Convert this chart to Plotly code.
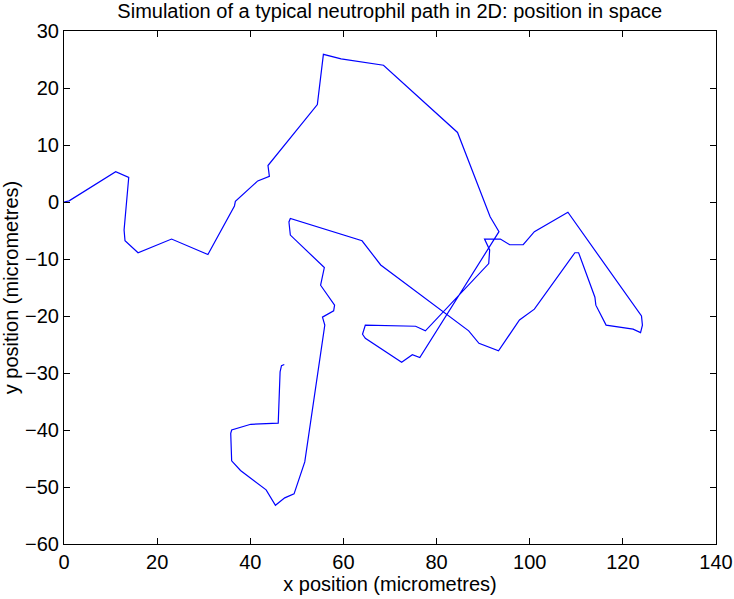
import plotly.graph_objects as go

# neutrophil path (micrometres)
x_pos = [0.0, 1.1, 11.1, 13.9, 12.9, 13.1, 15.9, 23.1, 30.9, 36.3, 36.6, 36.8,
         41.6, 44.1, 43.8, 54.4, 55.7, 59.5, 68.6, 84.5, 91.5, 93.4, 76.4, 74.8,
         72.5, 64.7, 64.1, 64.7, 75.5, 77.6, 91.2, 91.4, 90.3, 93.7, 95.7, 98.6,
         101.0, 108.2, 124.0, 124.2, 123.8, 122.2, 116.4, 114.2, 114.0, 110.5,
         109.7, 101.0, 97.8, 93.3, 89.1, 86.9, 68.0, 64.0, 48.6, 48.3, 48.6, 55.9,
         55.1, 58.1, 57.9, 55.5, 56.0, 51.7, 49.4, 47.4, 45.4, 43.4, 37.9, 36.0,
         35.8, 36.0, 40.1, 46.0, 46.4, 46.7, 47.3]
y_pos = [0.0, 0.2, 5.3, 4.3, -4.9, -6.8, -8.9, -6.5, -9.2, -0.9, -0.7, 0.1,
         3.7, 4.5, 6.4, 17.1, 25.9, 25.1, 24.0, 12.2, -2.6, -5.2, -27.3, -26.8,
         -28.1, -23.9, -23.2, -21.6, -21.8, -22.6, -10.8, -8.4, -6.5, -6.5, -7.5,
         -7.5, -5.2, -1.8, -20.0, -21.6, -22.9, -22.3, -21.6, -18.1, -16.7, -8.9,
         -8.9, -18.8, -20.7, -26.1, -24.8, -22.6, -11.05, -6.8, -2.9, -3.5, -5.8,
         -11.5, -14.6, -18.1, -19.1, -20.2, -21.6, -45.6, -51.2, -51.9, -53.2,
         -50.5, -47.1, -45.4, -40.6, -40.0, -39.0, -38.8, -29.8, -28.7, -28.5]

font = "Liberation Sans, Arial, Helvetica, sans-serif"

fig = go.Figure(go.Scatter(
    x=x_pos, y=y_pos, mode="lines",
    line=dict(color="#0000ff", width=1.2),
    showlegend=False,
))

axis = dict(
    showgrid=False, zeroline=False, automargin=False,
    showline=True, linecolor="black", linewidth=1,
    mirror="allticks", ticks="inside", ticklen=6, tickcolor="black",
    tickfont=dict(size=20, color="black"),
)

fig.update_layout(
    width=734, height=599,
    margin=dict(l=64, r=18, t=31, b=55),
    plot_bgcolor="white", paper_bgcolor="white",
    font=dict(family=font, color="black"),
    title=dict(text="Simulation of a typical neutrophil path in 2D: position in space",
               x=0.531, xanchor="center", y=0.982, yanchor="middle",
               font=dict(size=20)),
    xaxis=dict(axis, range=[0, 140], dtick=20,
               title=dict(text="x position (micrometres)", font=dict(size=20), standoff=0)),
    yaxis=dict(axis, range=[-60, 30], dtick=10,
               title=dict(text="y position (micrometres)", font=dict(size=20), standoff=2)),
)

# drop the page's default body margin so the figure sits at the window corner
fig.write_html("out.html", config={"displayModeBar": False},
               post_script="document.body.style.margin = '0';")
